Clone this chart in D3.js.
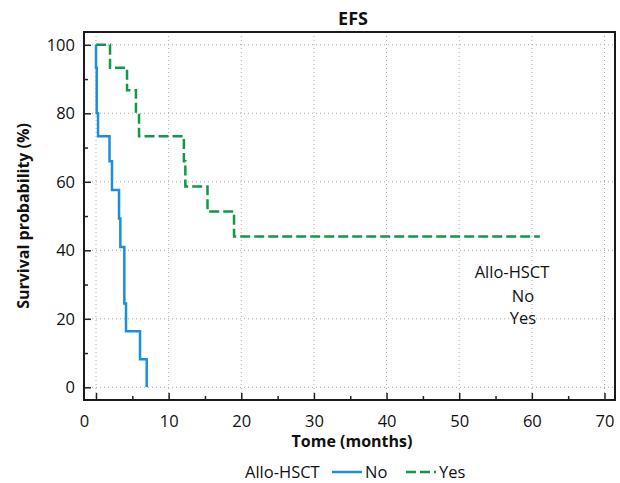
<!DOCTYPE html>
<html>
<head>
<meta charset="utf-8">
<script src="https://cdn.jsdelivr.net/npm/d3@7"></script>
<style>
  body { margin: 0; background: #fff; }
  text { font-family: "Open Sans", "Noto Sans", sans-serif; fill: #111; }
</style>
</head>
<body>
<div id="chart"></div>
<script>
// Kaplan-Meier steps (time in months, survival in %)
var groupNames = ["No", "Yes"];
var noTimes = [0, 0, 0.1, 0.28, 1.86, 2.2, 3.17, 3.35, 3.9, 4.13, 6.06, 6.98];
var noSurv = [100, 93.3, 80, 73.3, 66, 57.6, 49.3, 41, 24.5, 16.4, 8.2, 0];
var yesTimes = [0, 1.93, 4.27, 5.5, 5.92, 12.1, 12.3, 15.35, 19.0, 61.1];
var yesSurv = [100, 93.3, 86.7, 80, 73.3, 66, 58.6, 51.3, 44, 44];
var xTicks = [0, 10, 20, 30, 40, 50, 60, 70];
var xMinor = [5, 15, 25, 35, 45, 55, 65];
var yTicks = [0, 20, 40, 60, 80, 100];
var yMinor = [10, 30, 50, 70, 90];

var W = 620, H = 483;
var frame = { left: 84, top: 32, right: 615, bottom: 400 };
var colors = { No: "#1b8fd8", Yes: "#129846" };

var svg = d3.select("#chart").append("svg")
  .attr("width", W)
  .attr("height", H);

var xScale = d3.scaleLinear().domain([0, 70]).range([96, 604.5]);
var yScale = d3.scaleLinear().domain([0, 100]).range([387.3, 44.8]);

// dotted grid
svg.append("g").selectAll("line")
  .data(xTicks)
  .enter().append("line")
  .attr("x1", d => xScale(d)).attr("x2", d => xScale(d))
  .attr("y1", frame.top).attr("y2", frame.bottom)
  .attr("stroke", "#aaa").attr("stroke-width", 1)
  .attr("stroke-dasharray", "1,3");

svg.append("g").selectAll("line")
  .data(yTicks)
  .enter().append("line")
  .attr("x1", frame.left).attr("x2", frame.right)
  .attr("y1", d => yScale(d)).attr("y2", d => yScale(d))
  .attr("stroke", "#aaa").attr("stroke-width", 1)
  .attr("stroke-dasharray", "1,3");

// axes, ticks pointing inward
var xAxis = svg.append("g")
  .attr("transform", "translate(0," + frame.bottom + ")")
  .call(d3.axisBottom(xScale).tickValues(xTicks).tickSizeInner(-7).tickSizeOuter(0).tickPadding(15));
xAxis.select(".domain").remove();
xAxis.selectAll("text").style("font-size", "16.5px").attr("fill", "#111");
// the zero label sits on the frame edge in the original
xAxis.selectAll(".tick text").filter(d => d === 0).attr("dx", -12);

svg.append("g")
  .attr("transform", "translate(0," + frame.bottom + ")")
  .call(d3.axisBottom(xScale).tickValues(xMinor).tickSize(-4).tickFormat(""))
  .select(".domain").remove();

var yAxis = svg.append("g")
  .attr("transform", "translate(" + frame.left + ",0)")
  .call(d3.axisLeft(yScale).tickValues(yTicks).tickSizeInner(-7).tickSizeOuter(0).tickPadding(9));
yAxis.select(".domain").remove();
yAxis.selectAll("text").style("font-size", "16.5px").attr("fill", "#111");

svg.append("g")
  .attr("transform", "translate(" + frame.left + ",0)")
  .call(d3.axisLeft(yScale).tickValues(yMinor).tickSize(-4).tickFormat(""))
  .select(".domain").remove();

svg.selectAll(".tick line").attr("stroke", "#222").attr("stroke-width", 1.5);

// frame
svg.append("rect")
  .attr("x", frame.left).attr("y", frame.top)
  .attr("width", frame.right - frame.left)
  .attr("height", frame.bottom - frame.top)
  .attr("fill", "none").attr("stroke", "#1a1a1a").attr("stroke-width", 2);

// survival curves
var line = d3.line()
  .x(d => xScale(d[0]))
  .y(d => yScale(d[1]))
  .curve(d3.curveStepAfter);

var series = [
  { name: "No", points: d3.zip(noTimes, noSurv), dash: null },
  { name: "Yes", points: d3.zip(yesTimes, yesSurv), dash: "10,4" }
];

svg.append("g").selectAll("path")
  .data(series)
  .enter().append("path")
  .attr("d", d => line(d.points))
  .attr("fill", "none")
  .attr("stroke", d => colors[d.name])
  .attr("stroke-width", 2.5)
  .attr("stroke-dasharray", d => d.dash);

// title and axis labels
svg.append("text")
  .attr("x", 353).attr("y", 25)
  .attr("text-anchor", "middle")
  .style("font-size", "18px").style("font-weight", "bold")
  .text("EFS");

svg.append("text")
  .attr("x", 352).attr("y", 447)
  .attr("text-anchor", "middle")
  .style("font-size", "16px").style("font-weight", "bold")
  .text("Tome (months)");

svg.append("text")
  .attr("transform", "rotate(-90)")
  .attr("x", -216).attr("y", 29)
  .attr("text-anchor", "middle")
  .style("font-size", "16px").style("font-weight", "bold")
  .text("Survival probability (%)");

// legend inside the plot (text only, as in the original)
svg.append("text")
  .attr("x", 512).attr("y", 278)
  .attr("text-anchor", "middle")
  .style("font-size", "16.5px")
  .text("Allo-HSCT");

svg.append("g").selectAll("text")
  .data(groupNames)
  .enter().append("text")
  .attr("x", 523)
  .attr("y", (d, i) => 302 + i * 22)
  .attr("text-anchor", "middle")
  .style("font-size", "16.5px")
  .text(d => d);

// legend below the chart
var legend = svg.append("g").attr("transform", "translate(0,478)");
legend.append("text").attr("x", 245).attr("y", 0)
  .style("font-size", "16.5px").text("Allo-HSCT");

var legendItems = [
  { name: "No", x: 332, dash: null },
  { name: "Yes", x: 406, dash: "10,4" }
];
legendItems.forEach(function (it) {
  legend.append("line")
    .attr("x1", it.x).attr("x2", it.x + 30)
    .attr("y1", -6).attr("y2", -6)
    .attr("stroke", colors[it.name]).attr("stroke-width", 2.5)
    .attr("stroke-dasharray", it.dash);
  legend.append("text").attr("x", it.x + 33).attr("y", 0)
    .style("font-size", "16.5px").text(it.name);
});
</script>
</body>
</html>
